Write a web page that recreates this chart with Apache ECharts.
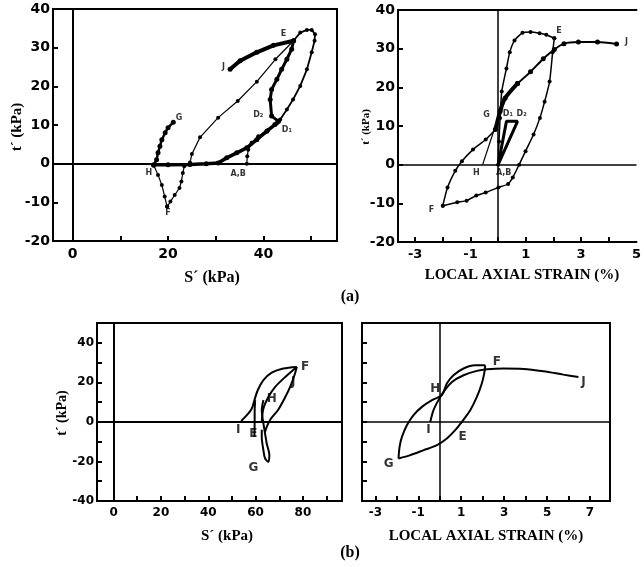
<!DOCTYPE html>
<html><head><meta charset="utf-8">
<script src="https://cdn.jsdelivr.net/npm/echarts@6/dist/echarts.min.js"></script>
<style>html,body{margin:0;padding:0;background:#fff}#c{width:644px;height:567px}</style>
</head><body><div id="c"></div>
<script>
// ---------- Panel (a) left : s' vs t' ----------
const aL_xLabels = [0, 20, 40];
const aL_xTicks = [0, 10, 20, 30, 40, 50];
const aL_yLabels = [-20, -10, 0, 10, 20, 30, 40];
const aL_AB = [[36.5,0],[36.6,1.9],[36.8,3.6],[37.5,5.4],[38.9,7.1],[41,8.8],[42.8,10.4]];
const aL_band = [[17,-0.3],[20,-0.3],[24.6,-0.2],[28,0],[30.5,0.2],[32.3,1.5],[34.4,2.8],[36.5,4.1],[38.6,6.2],[40.7,8.4],[42.4,10.1],[43.1,11]];
const aL_inner = [[43.1,11],[41.7,12.3],[41.4,16.6],[41.7,19.2],[42.8,21.8],[43.8,24.4],[44.9,27],[45.9,29.6],[46.3,31.8]];
const aL_outer = [[46.3,31.8],[47.7,33.9],[49.1,34.6],[50.1,34.6],[50.8,33.5],[50.7,31.8],[50.1,28.8],[49.1,24.4],[47.7,20.1],[46.2,16.6],[44.9,14],[43.5,11.4],[43.1,11]];
const aL_EJ = [[46.3,31.8],[42.1,30.6],[38.6,28.8],[35.1,26.6],[33,24.4]];
const aL_EF = [[46.3,31.8],[42.5,27],[38.6,21.2],[34.6,16.2],[30.5,11.9],[26.7,6.8],[25,2.5],[24.6,0.3],[23.4,-0.7],[23.1,-2.4],[22.8,-4.6],[22.4,-6.3],[21.4,-8.1],[20.5,-9.8],[19.8,-11.1]];
const aL_FH = [[19.8,-11.1],[19.3,-8.5],[18.7,-5.5],[17.9,-2.9],[17,-0.4]];
const aL_HG = [[17,-0.4],[17.6,1],[17.9,2.8],[18.3,4.5],[18.7,6.2],[19.4,8],[20,9.3],[21.1,10.7]];
const aL_marks = [['E',44.2,33.5],['J',31.6,24.9],['G',22.3,11.9],['H',16,-2.4],['A,B',34.7,-2.6],['D₂',38.9,12.7],['D₁',44.9,8.8],['F',20,-12.8]];

// ---------- Panel (a) right : local axial strain vs t' ----------
const aR_xLabels = [-3, -1, 1, 3, 5];
const aR_xTicks = [-3, -2, -1, 0, 1, 2, 3, 4];
const aR_yLabels = [-20, -10, 0, 10, 20, 30, 40];
const aR_up = [[0,0],[0.03,6],[0.07,12.1],[0.13,18.9],[0.3,24.9],[0.42,29.1],[0.59,32.1],[0.88,34.1],[1.17,34.3],[1.5,34],[1.74,33.6],[2.03,32.7]];
const aR_down = [[2.03,32.7],[1.97,29.1],[1.86,21.5],[1.68,16.3],[1.51,12.1],[1.28,7.8],[0.99,3.5],[0.76,0],[0.53,-3.3],[0.36,-5],[0.01,-5.9],[-0.45,-7.2],[-0.79,-8.0],[-1.14,-9.3],[-1.48,-9.7],[-2.0,-10.6]];
const aR_FG = [[-2.0,-10.6],[-1.83,-5.9],[-1.55,-1.6],[-1.31,0.9],[-0.91,3.9],[-0.45,6.5],[-0.1,9.1]];
const aR_GJ1 = [[-0.1,9.1],[0.07,13.8],[0.25,17.2],[0.7,21]];
const aR_GJ2 = [[0.7,21],[1.17,24],[1.63,27.4],[2.03,29.8],[2.38,31.3],[2.9,31.7],[3.59,31.7],[4.28,31.2]];
const aR_GH = [[-0.1,10],[-0.56,0]];
const aR_D = [[0,0],[0.3,11.2],[0.7,11.2],[0,0]];
const aR_marks = [['E',2.2,34.7],['J',4.64,31.7],['G',-0.42,12.8],['D₁',0.35,13.1],['D₂',0.85,13.1],['H',-0.79,-2.1],['A,B',0.2,-2.1],['F',-2.41,-11.6]];

// ---------- Panel (b) left : s' vs t' ----------
const bL_xLabels = [0, 20, 40, 60, 80];
const bL_xTicks = [0, 10, 20, 30, 40, 50, 60, 70, 80, 90];
const bL_yLabels = [-40, -20, 0, 20, 40];
const bL_yTicks = [-40, -30, -20, -10, 0, 10, 20, 30, 40, 50];
const bL_arc = [[53.9,0.5],[56.3,3.4],[58.4,6.8],[59.5,11],[60.9,16],[63.3,21.1],[66.8,24.9],[71.7,27],[77.4,27.8]];
const bL_E = [[59.5,-7.6],[59.6,0],[59.6,6],[59.8,11]];
const bL_inner = [[62.6,0],[63.3,6.8],[65.4,12.6],[68.2,17.6],[72.4,22.6],[77.4,27.8]];
const bL_right = [[77.4,27.8],[76.4,23.6],[74.6,17.7],[72.2,11.8],[69.4,5.9],[66.5,1.7],[64.7,-2.5],[64,-5]];
const bL_G = [[62.6,-4],[62.6,-7.6],[63.3,-14.3],[64,-18.5],[65.4,-20.2],[65.8,-16.8],[64.7,-10.9],[64,-5.9],[63.3,-0.8],[62.6,5.9],[63.3,11]];
const bL_marks = [['F',80.9,27.8],['J',75.9,20.2],['H',66.8,11.8],['I',52.7,-4.2],['E',59.1,-5.9],['G',59.1,-23.5]];

// ---------- Panel (b) right : local axial strain vs t' ----------
const bR_xLabels = [-3, -1, 1, 3, 5, 7];
const bR_xTicks = [-3, -2, -1, 0, 1, 2, 3, 4, 5, 6, 7];
const bR_yTicks = [-30, -20, -10, 0, 10, 20, 30, 40];
const bR_IJ = [[-0.44,0],[-0.29,5.9],[-0.06,11],[0.18,15.2],[0.57,20.2],[1.11,23.6],[1.73,25.8],[2.2,26.6],[2.97,27],[3.9,26.8],[4.83,25.6],[5.76,23.9],[6.46,22.7]];
const bR_GHF = [[-1.92,-18.5],[-1.87,-12.6],[-1.76,-7.6],[-1.53,-1.7],[-1.22,3.4],[-0.83,7.6],[-0.36,11],[0.1,13.5],[0.33,19.4],[0.64,23.6],[1.11,27],[1.65,28.6],[2.12,28.6]];
const bR_GEF = [[-1.92,-18.5],[-1.37,-16.8],[-0.75,-14.3],[-0.13,-11.8],[0.33,-8.4],[0.72,-4.2],[1.03,0],[1.42,5.9],[1.73,12.6],[1.96,19.4],[2.07,24.4],[2.12,28.6]];
const bR_marks = [['F',2.66,30.3],['J',6.69,20.2],['H',-0.21,16.9],['E',1.07,-7.6],['G',-2.38,-21.1],['I',-0.52,-4.2]];

const chart = echarts.init(document.getElementById('c'), null, {renderer:'canvas'});
const NUMFONT = 'DejaVu Sans';
const SERIF = 'Liberation Serif';

function xAx(gi, min, max, labels, ticks, fs) {
  return {type:'value', gridIndex:gi, min:min, max:max, splitLine:{show:false},
    axisLine:{show:true, onZero:false, lineStyle:{color:'#000', width:2}},
    axisTick:{show:true, inside:true, length:5, customValues:ticks, lineStyle:{color:'#000', width:2}},
    axisLabel:{show:true, customValues:labels, color:'#000', fontWeight:'bold', fontSize:fs, fontFamily:NUMFONT, margin:6}};
}
function yAx(gi, min, max, labels, ticks, fs) {
  return {type:'value', gridIndex:gi, min:min, max:max, splitLine:{show:false},
    axisLine:{show:true, onZero:false, lineStyle:{color:'#000', width:2}},
    axisTick:{show:true, inside:true, length:5, customValues:ticks, lineStyle:{color:'#000', width:2}},
    axisLabel:{show:labels.length>0, customValues:labels.length?labels:undefined, color:'#000', fontWeight:'bold', fontSize:fs, fontFamily:NUMFONT, margin:3}};
}
function ln(gi, data, w, dot, smooth) {
  return {type:'line', xAxisIndex:gi, yAxisIndex:gi, data:data, smooth:smooth||false,
    showSymbol:!!dot, symbol:'circle', symbolSize:dot||0,
    lineStyle:{color:'#000', width:w}, itemStyle:{color:'#000'}, z:3, silent:true};
}
function zero(gi, w) {
  return {type:'line', xAxisIndex:gi, yAxisIndex:gi, data:[], silent:true,
    markLine:{silent:true, symbol:'none', label:{show:false}, animation:false,
      lineStyle:{color:'#000', width:w, type:'solid'}, data:[{xAxis:0},{yAxis:0}]}};
}
function lab(gi, arr, fs) {
  return {type:'scatter', xAxisIndex:gi, yAxisIndex:gi, symbolSize:1, itemStyle:{color:'rgba(0,0,0,0)'},
    data:arr.map(a=>({name:a[0], value:[a[1],a[2]]})), z:5, silent:true,
    label:{show:true, position:'inside', formatter:'{b}', color:'#000', fontWeight:'bold', fontSize:fs, fontFamily:NUMFONT}};
}
const boxStyle = {show:true, borderColor:'#000', borderWidth:2, backgroundColor:'transparent'};

chart.setOption({
  animation:false,
  backgroundColor:'#fff',
  grid:[
    Object.assign({left:53, top:9, width:284, height:232}, boxStyle),
    {left:398, top:10, right:0, height:232, show:false},
    Object.assign({left:97, top:323, width:245, height:178}, boxStyle),
    Object.assign({left:362, top:323, width:248, height:178}, boxStyle)
  ],
  xAxis:[
    xAx(0, -4.1, 55.4, aL_xLabels, aL_xTicks, 14),
    xAx(1, -3.62, 5.0, aR_xLabels, aR_xTicks, 13),
    xAx(2, -7, 96.5, bL_xLabels, bL_xTicks, 12),
    xAx(3, -3.62, 7.93, bR_xLabels, bR_xTicks, 12),
    {type:'value', gridIndex:1, position:'top', min:-3.62, max:5.0, splitLine:{show:false},
      axisLine:{show:true, onZero:false, lineStyle:{color:'#000', width:2}},
      axisTick:{show:false}, axisLabel:{show:false}}
  ],
  yAxis:[
    yAx(0, -20, 40, aL_yLabels, aL_yLabels, 14),
    yAx(1, -20, 40, aR_yLabels, aR_yLabels, 14),
    yAx(2, -40, 50, bL_yLabels, bL_yTicks, 12),
    yAx(3, -40, 50, [], bR_yTicks, 12)
  ],
  series:[
    zero(0, 2), zero(1, 1.5), zero(2, 2), zero(3, 1.5),
    ln(0, aL_band, 3.5, 5), ln(0, aL_AB, 1.2, 4), ln(0, aL_inner, 3, 5), ln(0, aL_outer, 1.8, 4),
    ln(0, aL_EJ, 4, 5), ln(0, aL_EF, 1.2, 4), ln(0, aL_FH, 1.2, 4), ln(0, aL_HG, 2.5, 5),
    lab(0, aL_marks, 8),
    ln(1, aR_up, 1.5, 4, 0.2), ln(1, aR_down, 1.5, 4, 0.2), ln(1, aR_FG, 1.5, 4, 0.2),
    ln(1, aR_GJ1, 4, 5, 0.2), ln(1, aR_GJ2, 2, 5, 0.2), ln(1, aR_GH, 1.2, 0), ln(1, aR_D, 3, 0),
    lab(1, aR_marks, 8),
    ln(2, bL_arc, 2, 0, 0.3), ln(2, bL_E, 2, 0), ln(2, bL_inner, 2, 0, 0.3), ln(2, bL_right, 2, 0, 0.3), ln(2, bL_G, 2, 0, 0.3),
    lab(2, bL_marks, 12),
    ln(3, bR_IJ, 2, 0, 0.3), ln(3, bR_GHF, 2, 0, 0.3), ln(3, bR_GEF, 2, 0, 0.3),
    lab(3, bR_marks, 12)
  ],
  graphic:[
    {type:'text', x:212, y:278, style:{text:'S´ (kPa)', font:'bold 16px '+SERIF, fill:'#000', align:'center', verticalAlign:'middle'}},
    {type:'text', x:522, y:275, style:{text:'LOCAL AXIAL STRAIN (%)', font:'bold 15px '+SERIF, fill:'#000', align:'center', verticalAlign:'middle'}},
    {type:'text', x:227, y:536, style:{text:'S´ (kPa)', font:'bold 15px '+SERIF, fill:'#000', align:'center', verticalAlign:'middle'}},
    {type:'text', x:486, y:536, style:{text:'LOCAL AXIAL STRAIN (%)', font:'bold 15px '+SERIF, fill:'#000', align:'center', verticalAlign:'middle'}},
    {type:'text', x:17, y:127, rotation:Math.PI/2, style:{text:'t´ (kPa)', font:'bold 15px '+SERIF, fill:'#000', align:'center', verticalAlign:'middle'}},
    {type:'text', x:366, y:127, rotation:Math.PI/2, style:{text:'t´ (kPa)', font:'bold 11px '+SERIF, fill:'#000', align:'center', verticalAlign:'middle'}},
    {type:'text', x:62, y:413, rotation:Math.PI/2, style:{text:'t´ (kPa)', font:'bold 14px '+SERIF, fill:'#000', align:'center', verticalAlign:'middle'}},
    {type:'text', x:350, y:297, style:{text:'(a)', font:'bold 16px '+SERIF, fill:'#000', align:'center', verticalAlign:'middle'}},
    {type:'text', x:350, y:553, style:{text:'(b)', font:'bold 16px '+SERIF, fill:'#000', align:'center', verticalAlign:'middle'}}
  ]
});
</script></body></html>
